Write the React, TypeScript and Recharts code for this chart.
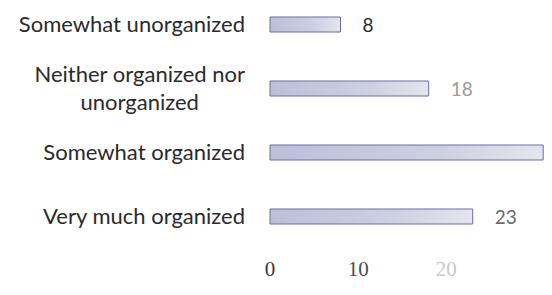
import React from "react";
import { BarChart, Bar, XAxis, YAxis, LabelList } from "recharts";

const categories = [
  "Somewhat unorganized",
  "Neither organized nor unorganized",
  "Somewhat organized",
  "Very much organized",
];
const counts = [8, 18, 31, 23];
const xTicks = [0, 10, 20];

const valueColors = ["#2a2a2a", "#9a9a9a", "#d0d0d0", "#6a6a6a"];
const xTickColors: Record<number, string> = { 0: "#3a3a3a", 10: "#4a4a4a", 20: "#c8c8c8" };

const data = categories.map((c, i) => ({ category: c, count: counts[i] }));

const CHART_W = 544;
const WRAP_CHARS = 22;

function wrapLabel(text: string): string[] {
  const words = text.split(" ");
  const lines: string[] = [];
  let cur = "";
  for (const w of words) {
    const t = cur ? cur + " " + w : w;
    if (t.length > WRAP_CHARS && cur) {
      lines.push(cur);
      cur = w;
    } else cur = t;
  }
  if (cur) lines.push(cur);
  return lines;
}

const CatTick = (props: any) => {
  const { x, y, payload } = props;
  const boxW = 260;
  const boxH = 80;
  const lines = wrapLabel(String(payload.value));
  return (
    <foreignObject x={x - boxW} y={y - boxH / 2} width={boxW} height={boxH}>
      <div
        style={{
          width: boxW,
          height: boxH,
          display: "flex",
          justifyContent: "flex-end",
          alignItems: "center",
        }}
      >
        <div
          style={{
            display: "inline-block",
            textAlign: "center",
            fontFamily: "Lato",
            fontSize: 22,
            lineHeight: "28px",
            color: "#2a2a2a",
            whiteSpace: "nowrap",
          }}
        >
          {lines.map((l, i) => (
            <div key={i}>{l}</div>
          ))}
        </div>
      </div>
    </foreignObject>
  );
};

const NumTick = (props: any) => {
  const { x, y, payload } = props;
  return (
    <text
      x={x}
      y={y}
      dy="0.71em"
      textAnchor="middle"
      fontFamily="Liberation Serif"
      fontSize={21}
      fill={xTickColors[payload.value] ?? "#444"}
    >
      {payload.value}
    </text>
  );
};

const ValueLabel = (props: any) => {
  const { x, y, width, height, value, index } = props;
  const lx = x + width + 22;
  if (lx > CHART_W - 20) return null;
  return (
    <text
      x={lx}
      y={y + height / 2 + 1}
      dy="0.35em"
      textAnchor="start"
      fontFamily="Lato"
      fontSize={19}
      fill={valueColors[index] ?? "#444"}
    >
      {value}
    </text>
  );
};

export default function App() {
  return (
    <div style={{ marginTop: -16, width: CHART_W, height: 303 }}>
      <BarChart
        width={CHART_W}
        height={303}
        data={data}
        layout="vertical"
        margin={{ top: 0, right: 0, bottom: 0, left: 0 }}
      >
        <defs>
          <linearGradient id="barFill" x1="0" y1="0" x2="1" y2="0">
            <stop offset="0%" stopColor="#bcbfda" />
            <stop offset="60%" stopColor="#cdcfe2" />
            <stop offset="100%" stopColor="#e4e5ee" />
          </linearGradient>
        </defs>
        <XAxis
          type="number"
          domain={[0, 32]}
          ticks={xTicks}
          axisLine={false}
          tickLine={false}
          tickMargin={7}
          height={47}
          tick={<NumTick />}
        />
        <YAxis
          type="category"
          dataKey="category"
          width={262}
          axisLine={false}
          tickLine={false}
          tickMargin={19}
          tick={<CatTick />}
        />
        <Bar
          dataKey="count"
          fill="url(#barFill)"
          stroke="#6a6fa0"
          strokeWidth={1}
          barSize={15}
          isAnimationActive={false}
        >
          <LabelList dataKey="count" content={<ValueLabel />} />
        </Bar>
      </BarChart>
    </div>
  );
}
